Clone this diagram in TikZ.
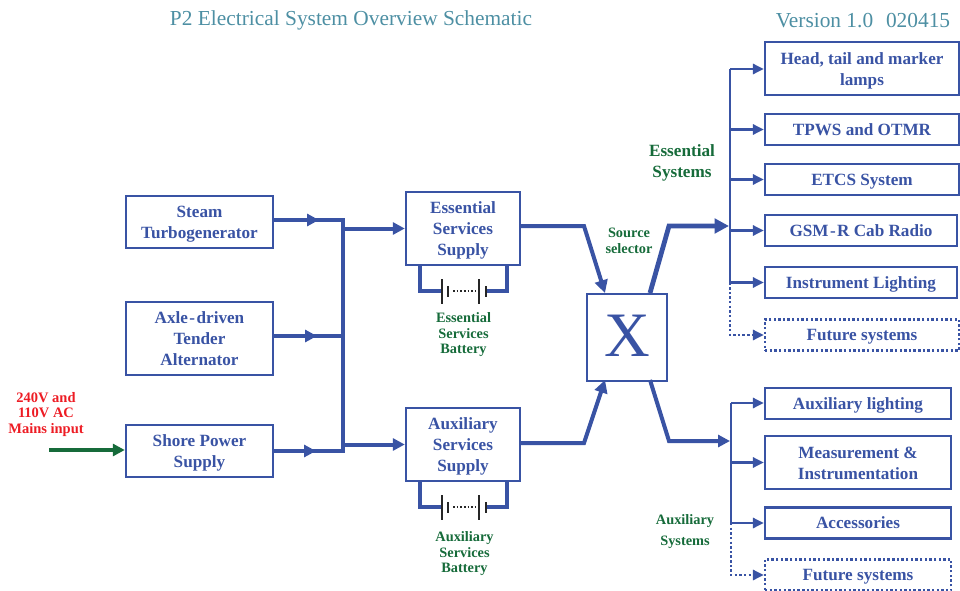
\documentclass[tikz,border=0pt]{standalone}
\usepackage{fontspec}
\setmainfont{Liberation Serif}
\usetikzlibrary{arrows.meta}
\definecolor{boxblue}{HTML}{3953A4}
\definecolor{darkgreen}{HTML}{166B3A}
\definecolor{titleteal}{HTML}{4D8FA3}
\definecolor{mainsred}{HTML}{ED1C24}
\newcommand{\firstln}{\rule{0pt}{12pt}}
\begin{document}
\begin{tikzpicture}[x=0.025cm, y=-0.025cm]
%define
\tikzstyle{state_base} = [rectangle, inner sep=0pt, text centered, align=center, draw=boxblue, line width=0.06cm, text=boxblue, font=\bfseries\fontsize{12.2}{14.9}\selectfont, execute at begin node={\rule{0pt}{11.3pt}}, execute at end node={\rule[-3pt]{0pt}{3pt}}]
\tikzstyle{state_src} = [state_base, minimum width=3.675cm, minimum height=1.3cm]
\tikzstyle{state_src3} = [state_base, minimum width=3.675cm, minimum height=1.825cm]
\tikzstyle{state_sup} = [state_base, minimum width=2.85cm, minimum height=1.825cm]
\tikzstyle{state_e} = [state_base, minimum width=4.85cm, minimum height=0.78cm]
\tikzstyle{state_g} = [state_base, minimum width=4.8cm, minimum height=0.78cm]
\tikzstyle{state_a} = [state_base, minimum width=4.65cm, minimum height=0.78cm]
\tikzstyle{state_fut} = [dash pattern=on 1.7pt off 1.6pt]
\tikzstyle{label_g} = [darkgreen, align=center, inner sep=0pt, font=\bfseries\fontsize{10.2}{11}\selectfont]
\tikzstyle{label_gl} = [darkgreen, align=center, inner sep=0pt, font=\bfseries\fontsize{12.2}{14.9}\selectfont]
\tikzstyle{title} = [titleteal, inner sep=0pt, font=\fontsize{15.2}{17}\selectfont]
\tikzstyle{wire} = [boxblue, line width=0.1cm, line join=miter]
\tikzstyle{wire_s} = [boxblue, line width=0.065cm]
\tikzstyle{arrow} = [wire, -{Triangle[length=0.3cm, width=0.3cm]}]
\tikzstyle{arrow_m} = [wire, -{Triangle[length=0.32cm, width=0.32cm]}]
\tikzstyle{arrow_l} = [wire, line width=0.12cm, -{Triangle[length=0.36cm, width=0.36cm]}]
\tikzstyle{arrow_s} = [wire_s, -{Triangle[length=0.27cm, width=0.25cm]}]
\tikzstyle{arrow_d} = [arrow_s, dash pattern=on 1.7pt off 1.6pt]
\tikzstyle{plate} = [black!85, line width=0.06cm]

\useasboundingbox (0,0) rectangle (960,591);

%title
\node[title, anchor=center](title_main) at (351,20.5){P2 Electrical System Overview Schematic};
\node[title, anchor=center](title_ver) at (863,20.5){Version 1.0\hspace{0.6em}020415};

%sources
\node[state_src](state_Steam) at (199.5,222){\firstln Steam\\Turbogenerator};
\node[state_src3](state_Axle) at (199.5,338.5){\firstln Axle\kern1pt-\kern1pt driven\\Tender\\Alternator};
\node[state_src](state_Shore) at (199.5,451){\firstln Shore Power\\Supply};
\node[mainsred, align=center, inner sep=0pt, font=\bfseries\fontsize{10.3}{11}\selectfont](label_Mains) at (46,414.5){240V and\\110V AC\\Mains input};

%supplies
\node[state_sup](state_ES) at (463,228.5){\firstln Essential\\Services\\Supply};
\node[state_sup](state_AS) at (463,444.5){\firstln Auxiliary\\Services\\Supply};
\node[state_base, minimum width=2cm, minimum height=2.175cm, font=\fontsize{45}{50}\selectfont, execute at begin node={}, execute at end node={}](state_X) at (627,337.5){X};
\node[label_g](label_ESB) at (463.5,335){Essential\\Services\\Battery};
\node[label_g](label_ASB) at (464.5,554){Auxiliary\\Services\\Battery};
\node[label_g](label_Sel) at (629,241){Source\\selector};
\node[label_gl](label_ESys) at (682,162.5){Essential\\Systems};
\node[label_g, font=\bfseries\fontsize{10.2}{14.9}\selectfont](label_ASys) at (685,532){Auxiliary\\Systems};

%essential loads
\node[state_e, minimum height=1.325cm](state_Head) at (862,68.5){\firstln Head, tail and marker\\lamps};
\node[state_e](state_TPWS) at (862,129.5){TPWS and OTMR};
\node[state_e](state_ETCS) at (862,179.5){ETCS System};
\node[state_g](state_GSM) at (861,230.5){GSM\kern1pt-\kern1pt R Cab Radio};
\node[state_g](state_Inst) at (861,282.5){Instrument Lighting};
\node[state_e, state_fut](state_FutE) at (862,335){Future systems};

%auxiliary loads
\node[state_a](state_AuxL) at (858,403.5){Auxiliary lighting};
\node[state_a, minimum height=1.325cm](state_Meas) at (858,462.5){\firstln Measurement \&\\Instrumentation};
\node[state_a](state_Acc) at (858,523){Accessories};
\node[state_a, state_fut](state_FutA) at (858,575){Future systems};

%junctions
\coordinate (bus_top) at (343,220);
\coordinate (bus_bot) at (343,451);
\coordinate (tip_Steam) at (319,220);
\coordinate (tip_Axle) at (317,336);
\coordinate (tip_Shore) at (316,451);
\coordinate (mains_in) at (49,450);
\coordinate (es_out) at (584,226);
\coordinate (as_out) at (584,443);
\coordinate (x_in1) at (605,293);
\coordinate (x_in2) at (605,380);
\coordinate (x_out1) at (650,293);
\coordinate (x_out2) at (650,380);
\coordinate (e_bend) at (669,226);
\coordinate (a_bend) at (669,441);
\coordinate (e_tip) at (729,226);
\coordinate (a_tip) at (730,441);
\coordinate (e_bus) at (730,69);
\coordinate (a_bus) at (731,403);
\coordinate (es_bl) at (420,291);
\coordinate (es_br) at (507,291);
\coordinate (as_bl) at (420,507);
\coordinate (as_br) at (507,507);

%line
\draw[arrow, darkgreen, line width=0.115cm](mains_in)--(state_Shore.west |- mains_in);
\draw[wire](state_Steam.east |- bus_top)--(bus_top);
\draw[arrow](state_Steam.east |- bus_top)--(tip_Steam);
\draw[wire](state_Axle.east |- tip_Axle)--(bus_top |- tip_Axle);
\draw[arrow](state_Axle.east |- tip_Axle)--(tip_Axle);
\draw[wire](state_Shore.east |- bus_bot)--(bus_bot);
\draw[arrow](state_Shore.east |- bus_bot)--(tip_Shore);
\draw[wire, line cap=rect](bus_top)--(bus_bot);
\draw[arrow](bus_top |- state_ES.west)--(state_ES.west);
\draw[arrow](bus_top |- state_AS.west)--(state_AS.west);
\draw[arrow_m](state_ES.east |- es_out)--(es_out)--(x_in1); %Essential->X
\draw[arrow_m](state_AS.east |- as_out)--(as_out)--(x_in2); %Auxiliary->X
\draw[arrow_l](x_out1)--(e_bend)--(e_tip); %X->Essential loads
\draw[arrow](x_out2)--(a_bend)--(a_tip); %X->Auxiliary loads

%essential bus
\draw[wire_s](e_bus)--(e_bus |- state_Inst.west);
\draw[arrow_s](e_bus)--(e_bus -| state_Head.west);
\draw[arrow_s](e_bus |- state_TPWS.west)--(state_TPWS.west);
\draw[arrow_s](e_bus |- state_ETCS.west)--(state_ETCS.west);
\draw[arrow_s](e_bus |- state_GSM.west)--(state_GSM.west);
\draw[arrow_s](e_bus |- state_Inst.west)--(state_Inst.west);
\draw[arrow_d](e_bus |- state_Inst.west)--(e_bus |- state_FutE.west)--(state_FutE.west);

%auxiliary bus
\draw[wire_s](a_bus)--(a_bus |- state_Acc.west);
\draw[arrow_s](a_bus)--(a_bus -| state_AuxL.west);
\draw[arrow_s](a_bus |- state_Meas.west)--(state_Meas.west);
\draw[arrow_s](a_bus |- state_Acc.west)--(state_Acc.west);
\draw[arrow_d](a_bus |- state_Acc.west)--(a_bus |- state_FutA.west)--(state_FutA.west);

%battery1
\draw[wire](es_bl |- state_ES.south)--(es_bl)--(441,291);
\draw[wire](es_br |- state_ES.south)--(es_br)--(486,291);
\draw[plate](442,279)--(442,304);
\draw[plate](448,286)--(448,297);
\draw[plate, dash pattern=on 1.3pt off 1.3pt](453,291)--(476,291);
\draw[plate](479,279)--(479,304);
\draw[plate](486,286)--(486,297);
%battery2
\draw[wire](as_bl |- state_AS.south)--(as_bl)--(441,507);
\draw[wire](as_br |- state_AS.south)--(as_br)--(486,507);
\draw[plate](442,495)--(442,520);
\draw[plate](448,502)--(448,513);
\draw[plate, dash pattern=on 1.3pt off 1.3pt](453,507)--(476,507);
\draw[plate](479,495)--(479,520);
\draw[plate](486,502)--(486,513);

\end{tikzpicture}
\end{document}
